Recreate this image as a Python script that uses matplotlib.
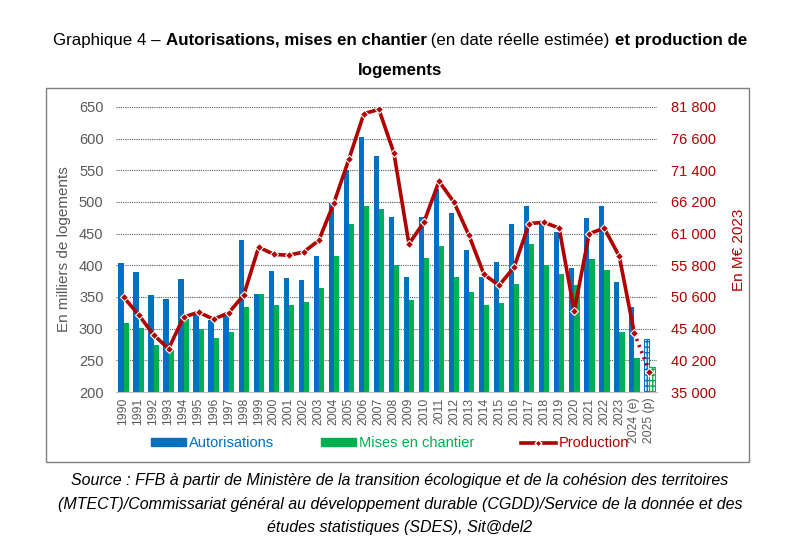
import numpy as np
import matplotlib
matplotlib.use("Agg")
import matplotlib.pyplot as plt
from matplotlib import font_manager
from matplotlib.lines import Line2D
from matplotlib.patches import Patch, Rectangle

names = set(f.name for f in font_manager.fontManager.ttflist)
narrow = "Liberation Sans Narrow" if "Liberation Sans Narrow" in names else "Liberation Sans"
plt.rcParams['font.family'] = ['Liberation Sans', 'DejaVu Sans']

# data
years = ["1990", "1991", "1992", "1993", "1994", "1995", "1996", "1997", "1998", "1999",
         "2000", "2001", "2002", "2003", "2004", "2005", "2006", "2007", "2008", "2009",
         "2010", "2011", "2012", "2013", "2014", "2015", "2016", "2017", "2018", "2019",
         "2020", "2021", "2022", "2023", "2024 (e)", "2025 (p)"]
autorisations = [403, 389, 353, 347, 379, 322, 313, 321, 440, 354,
                 391, 380, 377, 414, 498, 551, 603, 572, 476, 382,
                 477, 520, 483, 424, 382, 406, 466, 494, 466, 452,
                 396, 474, 493, 374, 334, 283]
mises_chantier = [309, 301, 275, 266, 316, 300, 286, 294, 334, 354,
                  338, 337, 342, 364, 415, 465, 493, 489, 400, 346,
                  412, 430, 382, 358, 337, 341, 370, 434, 401, 386,
                  369, 410, 392, 295, 253, 239]
production = [50600, 47700, 44400, 42100, 47300, 48100, 46950, 48000, 50900, 58800,
              57600, 57450, 58000, 59900, 66000, 73200, 80700, 81400, 74250, 59300,
              62900, 69600, 66150, 60700, 54300, 52500, 55500, 62650, 62870, 61900,
              48300, 61000, 61900, 57300, 44700, 38300]

blue = '#0070C0'
green = '#00B050'
red = '#B00000'
gray = '#595959'

fig = plt.figure(figsize=(8, 5.54), dpi=100)
ax = fig.add_axes([0.145, 0.2924, 0.676, 0.5145])
ax2 = ax.twinx()

x = np.arange(len(years))
n = len(years) - 1  # last one is a forecast, hatched
ax.bar(x[:n] - 0.17, autorisations[:n], width=0.35, color=blue, zorder=2)
ax.bar(x[:n] + 0.18, mises_chantier[:n], width=0.35, color=green, zorder=2)
ax.bar(x[n:] - 0.17, autorisations[n:], width=0.35, color='white', edgecolor=blue,
       hatch='+++', lw=0.8, zorder=2)
ax.bar(x[n:] + 0.18, mises_chantier[n:], width=0.35, color='white', edgecolor=green,
       hatch='+++', lw=0.8, zorder=2)

ax.set_xlim(-0.5, len(years) - 0.5)
ax.set_ylim(200, 650)
ax.set_yticks(np.arange(200, 651, 50))
ax.set_xticks(x)
ax.set_xticklabels(years, rotation=90, fontsize=8.8, color=gray)
ax.tick_params(axis='y', labelsize=10.5, labelcolor=gray, length=0, pad=9)
ax.tick_params(axis='x', length=0, pad=4)
ax.yaxis.grid(True, linestyle=(0, (1, 1)), color=gray, lw=0.8, zorder=0)
ax.set_axisbelow(True)
for s in ['top', 'left', 'right']:
    ax.spines[s].set_visible(False)
ax.spines['bottom'].set_color('#bfbfbf')
ax.set_ylabel("En milliers de logements", fontsize=11, color=gray, labelpad=6)

# production line, dotted for the forecast
ax2.plot(x[:n], production[:n], color=red, lw=2.6, zorder=3)
ax2.plot(x[n - 1:], production[n - 1:], color=red, lw=2.6, ls=(0, (0.6, 1.2)), zorder=3)
ax2.plot(x, production, ls='none', marker='D', ms=4.5, mfc=red, mec='white', mew=0.8, zorder=4)
ax2.set_ylim(35000, 81800)
rticks = np.arange(35000, 81801, 5200)
ax2.set_yticks(rticks)
ax2.set_yticklabels([f"{v:,}".replace(",", " ") for v in rticks])
ax2.tick_params(axis='y', labelsize=10.5, labelcolor=red, length=0, pad=10)
for s in ['top', 'left', 'right', 'bottom']:
    ax2.spines[s].set_visible(False)
ax2.set_ylabel("En M€ 2023", fontsize=11, color=red, labelpad=12)

handles = [Patch(color=blue), Patch(color=green),
           Line2D([], [], color=red, lw=2.6, marker='D', ms=3.5, mfc=red, mec='white')]
leg = fig.legend(handles, ["Autorisations", "Mises en chantier", "Production"],
                 loc='center', bbox_to_anchor=(0.4875, 0.2), ncol=3, frameon=False,
                 fontsize=10.5, handlelength=2.4, handleheight=0.5, columnspacing=3.2,
                 handletextpad=0.2)
for t, c in zip(leg.get_texts(), [blue, green, red]):
    t.set_color(c)

# outer frame
fig.patches.append(Rectangle((0.0575, 0.166), 0.879, 0.675, transform=fig.transFigure,
                             fill=False, edgecolor='#7f7f7f', lw=1))

# title with bold pieces
parts = [("Graphique 4 – ", 'normal'), ("Autorisations, mises en chantier", 'bold'),
         (" (en date réelle estimée) ", 'normal'), ("et production de", 'bold')]
texts = [fig.text(0, 1 - 40 / 554, p, fontsize=12.2, fontweight=w, family=narrow,
                  va='center', ha='left') for p, w in parts]
fig.text(0.5, 1 - 70 / 554, "logements", fontsize=12.2, fontweight='bold', family=narrow,
         va='center', ha='center')
fig.canvas.draw()
r = fig.canvas.get_renderer()
widths = [t.get_window_extent(r).width / fig.bbox.width for t in texts]
pos = 0.5 - sum(widths) / 2
for t, w in zip(texts, widths):
    t.set_x(pos)
    pos += w

source = ("Source : FFB à partir de Ministère de la transition écologique et de la cohésion des territoires\n"
          "(MTECT)/Commissariat général au développement durable (CGDD)/Service de la donnée et des\n"
          "études statistiques (SDES), Sit@del2")
fig.text(0.5, 1 - 504 / 554, source, fontsize=11.5, style='italic', family=narrow,
         ha='center', va='center', linespacing=1.7)

fig.savefig("out.png", dpi=100)
